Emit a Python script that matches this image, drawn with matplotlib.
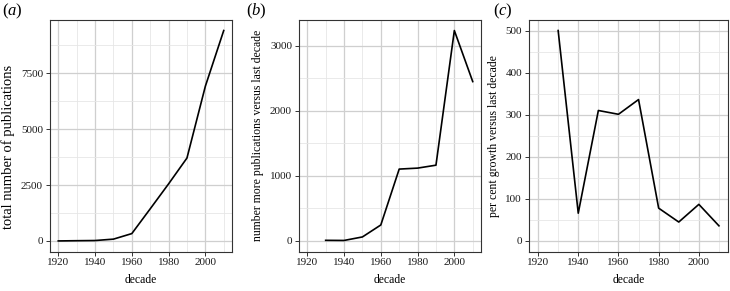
import matplotlib
matplotlib.use("Agg")
import matplotlib.pyplot as plt

decades = [1920, 1930, 1940, 1950, 1960, 1970, 1980, 1990, 2000, 2010]
total_pubs = [2, 12, 20, 82, 330, 1435, 2550, 3705, 6910, 9400]
diff_decades = [1930, 1940, 1950, 1960, 1970, 1980, 1990, 2000, 2010]
more_pubs = [10, 8, 62, 246, 1105, 1120, 1165, 3235, 2450]
pct_growth = [500, 66, 310, 301, 336, 78, 45, 87, 36]

xticks = [1920, 1940, 1960, 1980, 2000]
yticks_a = [0, 2500, 5000, 7500]
yticks_b = [0, 1000, 2000, 3000]
yticks_c = [0, 100, 200, 300, 400, 500]

plt.rcParams['font.family'] = ['Liberation Serif', 'DejaVu Serif']
plt.rcParams['mathtext.fontset'] = 'custom'
plt.rcParams['mathtext.it'] = 'Liberation Serif:italic'
plt.rcParams['mathtext.rm'] = 'Liberation Serif'

W, H = 730, 291
fig = plt.figure(figsize=(W / 100, H / 100), dpi=100)

def px_axes(l, r, t, b):
    return fig.add_axes([l / W, 1 - b / H, (r - l) / W, (b - t) / H])

panels = [
    (50, 232, 20, 251.5, decades, total_pubs, yticks_a, (0, 9400),
     'total number of publications', 10.5, 0.45, 'a', 2),
    (299, 481, 20, 251.5, diff_decades, more_pubs, yticks_b, (0, 3235),
     'number more publications versus last decade', 8.5, 0.5, 'b', 246),
    (529, 728, 20, 251.5, diff_decades, pct_growth, yticks_c, (0, 500),
     'per cent growth versus last decade', 8.5, 0.5, 'c', 493),
]

major_c = '#cfcfcf'
minor_c = '#e6e6e6'

for (l, r, t, b, xs, ys, yt, ylim, ylabel, ylsize, ylpos, tag, tagx) in panels:
    ax = px_axes(l, r, t, b)
    x0, x1 = 1920, 2010
    ex = (x1 - x0) * 0.05
    ax.set_xlim(x0 - ex, x1 + ex)
    ey = (ylim[1] - ylim[0]) * 0.05
    ax.set_ylim(ylim[0] - ey, ylim[1] + ey)
    ax.set_xticks(xticks)
    ax.set_yticks(yt)
    xminor = [1930, 1950, 1970, 1990, 2010]
    step = yt[1] - yt[0]
    yminor = [v + step / 2 for v in yt if v + step / 2 <= ylim[1] + ey]
    ax.set_xticks(xminor, minor=True)
    ax.set_yticks(yminor, minor=True)
    ax.grid(True, which='major', color=major_c, linewidth=0.9, zorder=0)
    ax.grid(True, which='minor', color=minor_c, linewidth=0.6, zorder=0)
    ax.tick_params(which='minor', length=0)
    ax.tick_params(which='major', length=3, width=0.7, color='#333333',
                   labelsize=8, labelcolor='#1a1a1a', pad=2)
    for s in ax.spines.values():
        s.set_color('#333333')
        s.set_linewidth(0.8)
    ax.set_axisbelow(True)
    ax.plot(xs, ys, color='black', linewidth=1.2, zorder=3)
    ax.set_xlabel('decade', fontsize=8.4, labelpad=5)
    ax.set_ylabel(ylabel, fontsize=ylsize, labelpad=4)
    if ylpos != 0.5:
        ax.yaxis.set_label_coords(-0.19, ylpos)
    fig.text(tagx / W, 1 - 11 / H, r'($\it{' + tag + r'}$)', fontsize=12,
             va='center', ha='left')

fig.savefig('out.png', dpi=100)
